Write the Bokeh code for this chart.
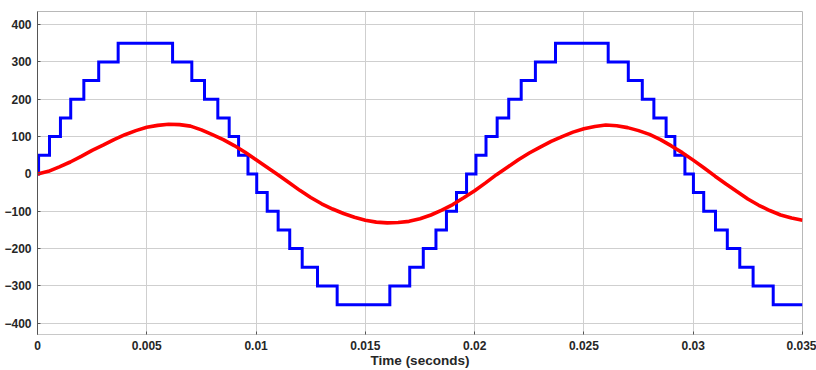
from bokeh.plotting import figure
from bokeh.models import Range1d, FixedTicker, CustomJSTickFormatter
from bokeh.embed import file_html
from bokeh.resources import INLINE

# Blue staircase: time of each transition and the level held after it
step_times = [0.0, 0.00005, 0.00055, 0.00105, 0.00152, 0.00212, 0.00280, 0.00369,
              0.00618, 0.00706, 0.00764, 0.00825, 0.00877, 0.00920, 0.00963, 0.01003,
              0.01051, 0.01101, 0.01154, 0.01211, 0.01281, 0.01371,
              0.01612, 0.01703, 0.01765, 0.01823, 0.01871, 0.01917, 0.01963, 0.02006,
              0.02052, 0.02103, 0.02156, 0.02213, 0.02278, 0.02370,
              0.02611, 0.02703, 0.02767, 0.02820, 0.02876, 0.02916, 0.02962, 0.03001,
              0.03048, 0.03102, 0.03156, 0.03213, 0.03274, 0.03366, 0.035]
step_levels = [0, 50, 100, 150, 200, 250, 300, 350,
               300, 250, 200, 150, 100, 50, 0, -50,
               -100, -150, -200, -250, -300, -350,
               -300, -250, -200, -150, -100, -50, 0, 50,
               100, 150, 200, 250, 300, 350,
               300, 250, 200, 150, 100, 50, 0, -50,
               -100, -150, -200, -250, -300, -350, -350]

# Red filtered waveform, read every 0.5 ms
red_times = [0.0, 0.0005, 0.001, 0.0015, 0.002, 0.0025, 0.003, 0.0035, 0.004, 0.0045,
             0.005, 0.0055, 0.006, 0.0065, 0.007, 0.0075, 0.008, 0.0085, 0.009, 0.0095,
             0.010, 0.0105, 0.011, 0.0115, 0.012, 0.0125, 0.013, 0.0135, 0.014, 0.0145,
             0.015, 0.0155, 0.016, 0.0165, 0.017, 0.0175, 0.018, 0.0185, 0.019, 0.0195,
             0.020, 0.0205, 0.021, 0.0215, 0.022, 0.0225, 0.023, 0.0235, 0.024, 0.0245,
             0.025, 0.0255, 0.026, 0.0265, 0.027, 0.0275, 0.028, 0.0285, 0.029, 0.0295,
             0.030, 0.0305, 0.031, 0.0315, 0.032, 0.0325, 0.033, 0.0335, 0.034, 0.0345,
             0.035]
red_values = [0, 7, 19, 32, 47, 63, 77, 92, 105, 116,
              125, 130, 133, 132, 128, 118, 105, 92, 76, 58,
              38, 18, -2, -23, -44, -63, -80, -94, -106, -116,
              -124, -129, -131, -130, -127, -120, -110, -97, -82, -64,
              -45, -24, -2, 18, 38, 56, 72, 87, 100, 112,
              121, 127, 131, 129, 124, 116, 106, 92, 75, 57,
              37, 16, -6, -27, -47, -67, -84, -98, -110, -118,
              -124]

x_ticks = [0, 0.005, 0.01, 0.015, 0.02, 0.025, 0.03, 0.035]
x_tick_labels = ["0", "0.005", "0.01", "0.015", "0.02", "0.025", "0.03", "0.035"]
y_ticks = [-400, -300, -200, -100, 0, 100, 200, 300, 400]

p = figure(width=816, height=370, output_backend="svg", toolbar_location=None,
           x_range=Range1d(0, 0.035), y_range=Range1d(-430, 435),
           min_border_left=37, min_border_right=14, min_border_top=11, min_border_bottom=36,
           background_fill_color="white", border_fill_color="white")

p.step(step_times, step_levels, mode="after", line_color="#0000ff", line_width=3,
       line_join="miter")
p.line(red_times, red_values, line_color="#ff0000", line_width=3.6, line_join="round")

font = "Liberation Sans"
p.xaxis.ticker = FixedTicker(ticks=x_ticks)
p.xaxis.formatter = CustomJSTickFormatter(args=dict(labels=x_tick_labels),
                                          code="return labels[index];")
p.yaxis.ticker = FixedTicker(ticks=y_ticks)

for ax in (p.xaxis[0], p.yaxis[0]):
    ax.major_label_text_font = font
    ax.major_label_text_font_style = "bold"
    ax.major_label_text_font_size = "12px"
    ax.major_label_text_color = "#262626"
    ax.major_tick_in = 3
    ax.major_tick_out = 0
    ax.minor_tick_in = 0
    ax.minor_tick_out = 0
    ax.major_tick_line_color = "#555555"

p.yaxis.axis_line_color = "#555555"
p.xaxis.axis_line_color = "#c8c8c8"
p.yaxis.major_label_standoff = 6
p.xaxis.major_label_standoff = 6

p.xaxis.axis_label = "Time (seconds)"
p.xaxis.axis_label_text_font = font
p.xaxis.axis_label_text_font_style = "bold"
p.xaxis.axis_label_text_font_size = "13.5px"
p.xaxis.axis_label_text_color = "#262626"
p.xaxis.axis_label_standoff = 0

p.grid.grid_line_color = "#cfcfcf"
p.grid.grid_line_width = 1
p.outline_line_color = "#b8b8b8"

open("out.html", "w").write(file_html(p, INLINE))
